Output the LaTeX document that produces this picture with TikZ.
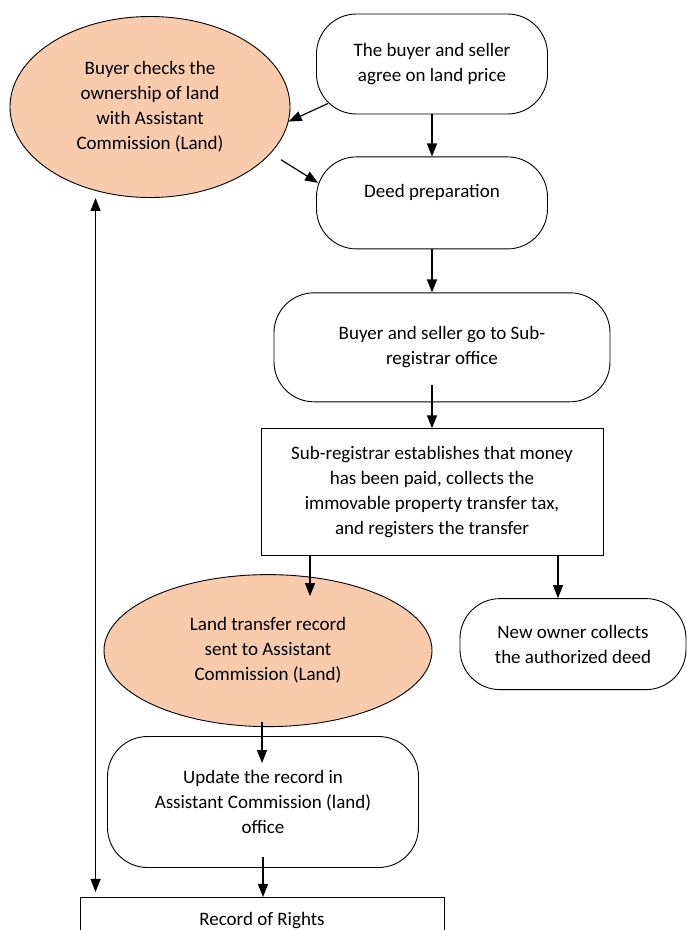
\documentclass[tikz,border=0pt]{standalone}
\usepackage{fontspec}
\setmainfont{Carlito}
\usepackage{tikz}
\usetikzlibrary{positioning,shapes,arrows.meta,calc}
\definecolor{peach}{RGB}{248,203,173}

\begin{document}
\begin{tikzpicture}[x=1pt,y=1pt,node distance=40pt]
\tikzset{
    stepbox/.style={rectangle, draw=black, line width=0.9pt, rounded corners=40pt, align=center, inner sep=2pt, font=\fontsize{19}{25}\selectfont},
    checkoval/.style={ellipse, draw=black, line width=0.9pt, fill=peach, align=center, inner sep=0pt, font=\fontsize{19}{25}\selectfont},
    taskrect/.style={rectangle, draw=black, line width=0.9pt, align=center, inner sep=2pt, font=\fontsize{19}{25}\selectfont},
    arr/.style={line width=1.2pt, -{Triangle[length=13pt,width=10pt]}}
}
\useasboundingbox (0,0) rectangle (687,-930);
\node[stepbox, minimum width=231pt, minimum height=100pt] (agree) at (432,-64) {The buyer and seller\\agree on land price};
\node[checkoval, minimum width=280pt, minimum height=181pt] (check) at (150,-107) {Buyer checks the\\ownership of land\\with Assistant\\Commission (Land)};
\node[stepbox, below=42pt of agree, minimum width=231pt, minimum height=92pt] (deed) {Deed preparation\\\mbox{}};
\node[stepbox, below=43pt of deed, xshift=10pt, minimum width=336pt, minimum height=109pt] (visit) {Buyer and seller go to Sub-\\registrar office};
\node[taskrect, below=26pt of visit, xshift=-10pt, minimum width=342pt, minimum height=127pt] (registrar) {Sub-registrar establishes that money\\has been paid, collects the\\immovable property transfer tax,\\and registers the transfer};
\node[checkoval, below=18pt of registrar, xshift=-164pt, minimum width=328pt, minimum height=152pt] (sent) {Land transfer record\\sent to Assistant\\Commission (Land)};
\node[stepbox, below=42pt of registrar, xshift=141pt, minimum width=226pt, minimum height=91pt] (owner) {New owner collects\\the authorized deed};
\node[stepbox, below=9pt of sent, xshift=-5pt, minimum width=311pt, minimum height=131pt] (update) {Update the record in\\Assistant Commission (land)\\office};
\node[taskrect, below=29pt of update, xshift=-1pt, minimum width=364pt, minimum height=46pt] (rights) {Record of Rights};

\coordinate (s1) at ($(sent.north)+(42pt,-22pt)$);
\coordinate (o1) at ($(owner.north)+(-15pt,0)$);
\coordinate (u1) at ($(update.north)+(-1pt,-27pt)$);
\coordinate (l1) at ($(rights.north west)+(16pt,5pt)$);

\draw[arr] ($(agree.south west)+(12pt,11pt)$) -- (check.-6);
\draw[arr, shorten <=12pt] (check.-21) -- ($(deed.west)+(2pt,20pt)$);
\draw[arr] (agree.south) -- (deed.north);
\draw[arr] (deed.south) -- (deed.south |- visit.north);
\draw[arr, shorten <=-17pt] (visit.south -| registrar.north) -- (registrar.north);
\draw[arr] (registrar.south -| s1) -- (s1);
\draw[arr] (registrar.south -| o1) -- (o1);
\draw[arr, shorten <=-5pt] (u1 |- sent.south) -- (u1);
\draw[arr, shorten <=-11pt] (update.south) -- (update.south |- rights.north);
\draw[line width=1.2pt, {Triangle[length=13pt,width=10pt]}-{Triangle[length=13pt,width=10pt]}] (l1 |- check.south) -- (l1);
\end{tikzpicture}
\end{document}
